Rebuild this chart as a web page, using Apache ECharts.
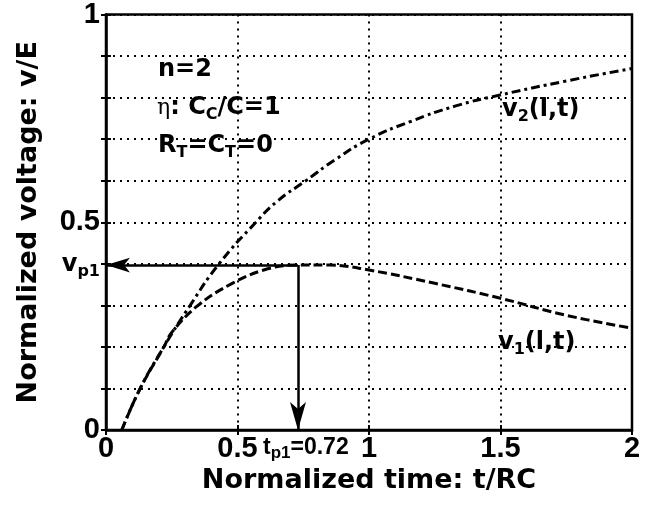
<!DOCTYPE html>
<html>
<head>
<meta charset="utf-8">
<script src="https://cdn.jsdelivr.net/npm/echarts@6/dist/echarts.min.js"></script>
<style>
  html, body { margin: 0; padding: 0; background: #fff; }
  #main { width: 653px; height: 505px; }
</style>
</head>
<body>
<div id="main"></div>
<script>
// values: [t/RC, v/E]
var v2Data = [[0.06, 0], [0.13, 0.1], [0.22, 0.2], [0.32, 0.3], [0.43, 0.4], [0.57, 0.5],
  [0.65, 0.55], [0.76, 0.6], [0.87, 0.65], [1.0, 0.7], [1.16, 0.743], [1.33, 0.78],
  [1.49, 0.805], [1.75, 0.84], [2.0, 0.87]];
var v1Data = [[0.06, 0], [0.13, 0.1], [0.22, 0.2], [0.25, 0.235], [0.35, 0.3], [0.48, 0.353],
  [0.6, 0.385], [0.72, 0.397], [0.85, 0.397], [1.0, 0.385], [1.25, 0.353], [1.5, 0.317],
  [1.75, 0.276], [2.0, 0.245]];
var yLabels = [0, 0.5, 1];
var tp1 = 0.73;   // where the arrow is drawn
var vp1 = 0.397;

var myChart = echarts.init(document.getElementById("main"));

var tickFont = { fontFamily: "Liberation Sans", fontWeight: "bold", fontSize: 29, color: "#000" };
var bigFont = 'bold 24px "DejaVu Sans"';
var subFont = 'bold 16px "DejaVu Sans"';
var rich = {
  b: { font: bigFont, fill: "#000", lineHeight: 30 },
  s: { font: subFont, fill: "#000", lineHeight: 16, verticalAlign: "bottom" },
  g: { font: '22px "DejaVu Serif"', fill: "#000", lineHeight: 30 }
};

function label(x, y, text) {
  return { type: "text", x: x, y: y, style: { text: text, rich: rich, verticalAlign: "middle" } };
}

myChart.setOption({
  animation: false,
  grid: { left: 106, right: 21, top: 14, bottom: 75, show: true, borderColor: "#000", borderWidth: 2.5 },
  xAxis: [{
    type: "value", min: 0, max: 2, interval: 0.5,
    name: "Normalized time: t/RC", nameLocation: "middle", nameGap: 30,
    nameTextStyle: { fontFamily: "DejaVu Sans", fontWeight: "bold", fontSize: 27, color: "#000" },
    axisLine: { lineStyle: { color: "#000", width: 2.5 } },
    axisTick: { inside: true, length: 5, lineStyle: { color: "#000", width: 2 } },
    axisLabel: Object.assign({ margin: 4 }, tickFont),
    splitLine: { lineStyle: { color: "#000", width: 2, type: [2, 5] } }
  }, {
    type: "value", position: "top", min: 0, max: 2, interval: 0.5,
    axisLine: { show: false }, axisLabel: { show: false }, splitLine: { show: false },
    axisTick: { inside: true, length: 5, lineStyle: { color: "#000", width: 2 } }
  }],
  yAxis: [{
    type: "value", min: 0, max: 1, interval: 0.1,
    name: "Normalized voltage: v/E", nameLocation: "middle", nameGap: 64,
    nameTextStyle: { fontFamily: "DejaVu Sans", fontWeight: "bold", fontSize: 27, color: "#000" },
    axisLine: { lineStyle: { color: "#000", width: 2.5 } },
    axisTick: { inside: true, length: 5, lineStyle: { color: "#000", width: 2 } },
    axisLabel: Object.assign({
      margin: 6,
      formatter: function (v) {
        for (var i = 0; i < yLabels.length; i++) {
          if (Math.abs(v - yLabels[i]) < 1e-6) return String(yLabels[i]);
        }
        return "";
      }
    }, tickFont),
    splitLine: { lineStyle: { color: "#000", width: 2, type: [2, 5] } }
  }, {
    type: "value", position: "right", min: 0, max: 1, interval: 0.1,
    axisLine: { show: false }, axisLabel: { show: false }, splitLine: { show: false },
    axisTick: { inside: true, length: 5, lineStyle: { color: "#000", width: 2 } }
  }],
  series: [
    {
      name: "v2", type: "line", data: v2Data, smooth: 0.5, showSymbol: false,
      lineStyle: { color: "#000", width: 3, type: [9, 4, 3, 4] }
    },
    {
      name: "v1", type: "line", data: v1Data, smooth: 0.4, showSymbol: false,
      lineStyle: { color: "#000", width: 3, type: [9, 4] },
      markLine: {
        silent: true, label: { show: false },
        lineStyle: { color: "#000", width: 2.5, type: "solid" },
        data: [
          [{ coord: [tp1, vp1], symbol: "none" }, { coord: [0, vp1], symbol: "arrow", symbolSize: [11, 24] }],
          [{ coord: [tp1, vp1], symbol: "none" }, { coord: [tp1, 0], symbol: "arrow", symbolSize: [12, 28] }]
        ]
      }
    }
  ],
  graphic: [
    label(158, 70, "{b|n=2}"),
    label(157, 108, "{g|η}{b|: C}{s|C}{b|/C=1}"),
    label(158, 146, "{b|R}{s|T}{b|=C}{s|T}{b|=0}"),
    label(502, 110, "{b|v}{s|2}{b|(l,t)}"),
    label(498, 343, "{b|v}{s|1}{b|(l,t)}"),
    { type: "text", x: 100, y: 265, style: { text: "{b|v}{s|p1}", rich: rich, align: "right", verticalAlign: "middle" } },
    { type: "text", x: 263, y: 448, style: {
      text: "{t|t}{u|p1}{t|=0.72}", verticalAlign: "middle",
      rich: {
        t: { font: 'bold 23px "Liberation Sans"', fill: "#000", lineHeight: 28 },
        u: { font: 'bold 17px "Liberation Sans"', fill: "#000", lineHeight: 17, verticalAlign: "bottom" }
      }
    } }
  ]
});
</script>
</body>
</html>
